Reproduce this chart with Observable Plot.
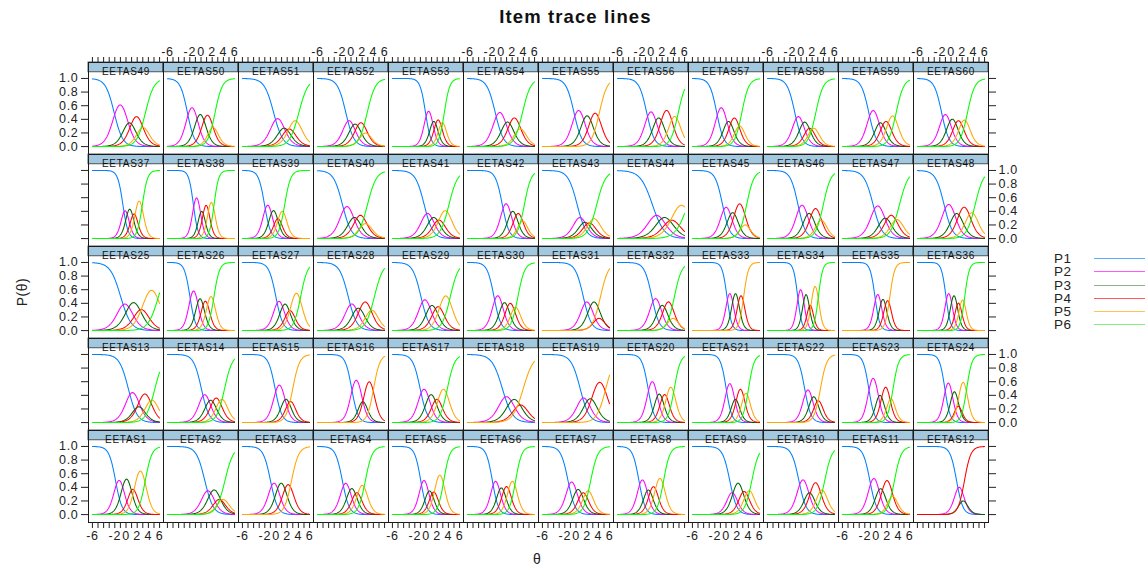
<!DOCTYPE html>
<html>
<head>
<meta charset="utf-8">
<script src="https://cdn.jsdelivr.net/npm/d3@7"></script>
<script src="https://cdn.jsdelivr.net/npm/@observablehq/plot@0.6"></script>
<style>
  body { margin: 0; background: #fff; font-family: "Liberation Sans", Arial, sans-serif; }
  #wrap { position: relative; width: 1145px; height: 567px; overflow: hidden; }
  #title { height: 30px; line-height: 33px; text-align: center; font-weight: bold; font-size: 18.5px; color: #111; padding-left: 6px; letter-spacing: 1.1px; }
  #ylab { position: absolute; left: 22px; top: 292px; transform: translate(-50%, -50%) rotate(-90deg); font-size: 14px; color: #222; white-space: nowrap; letter-spacing: 0.5px; }
  #xlab { position: absolute; left: 537px; top: 559px; transform: translate(-50%, -50%); font-size: 14px; color: #222; }
  #legend { position: absolute; left: 1054px; top: 252px; }
  .lg { position: relative; height: 13.3px; width: 91px; }
  .lg span { position: absolute; left: 0; top: 0; font-size: 13.5px; line-height: 13px; color: #222; letter-spacing: 0.6px; }
  .lg i { position: absolute; left: 40px; width: 51px; top: 6px; height: 0; border-top: 1.5px solid; opacity: 0.65; }
  svg text { letter-spacing: 0.7px; }
</style>
</head>
<body>
<div id="wrap">
  <div id="title">Item trace lines</div>
  <div id="chart"></div>
  <div id="ylab">P(θ)</div>
  <div id="xlab">θ</div>
  <div id="legend"></div>
</div>
<script>
// ---- data ----
const itemNames = [
  "EETAS1","EETAS2","EETAS3","EETAS4","EETAS5","EETAS6","EETAS7","EETAS8","EETAS9","EETAS10","EETAS11","EETAS12",
  "EETAS13","EETAS14","EETAS15","EETAS16","EETAS17","EETAS18","EETAS19","EETAS20","EETAS21","EETAS22","EETAS23","EETAS24",
  "EETAS25","EETAS26","EETAS27","EETAS28","EETAS29","EETAS30","EETAS31","EETAS32","EETAS33","EETAS34","EETAS35","EETAS36",
  "EETAS37","EETAS38","EETAS39","EETAS40","EETAS41","EETAS42","EETAS43","EETAS44","EETAS45","EETAS46","EETAS47","EETAS48",
  "EETAS49","EETAS50","EETAS51","EETAS52","EETAS53","EETAS54","EETAS55","EETAS56","EETAS57","EETAS58","EETAS59","EETAS60"
];
// discrimination (slope) of each item, estimated from the curves
const slopes = [
  1.71,1.33,1.56,1.64,1.86,1.84,1.58,1.78,1.57,1.54,1.65,1.77,
  1.26,1.45,1.64,1.77,1.53,1.09,1.24,1.84,2.00,1.77,1.97,2.12,
  1.09,2.03,1.61,1.29,1.37,1.66,1.40,1.51,2.38,2.64,2.33,2.48,
  2.17,2.42,1.88,1.26,1.28,1.66,1.25,0.94,1.54,1.48,1.25,1.32,
  1.31,1.57,1.22,1.37,2.07,1.35,1.42,1.47,1.60,1.49,1.49,1.51
];
// category thresholds of each item, estimated from the curves
const thresholds = [
  [-1.87,-0.58,0.77,1.68,3.45],[0.68,1.78,2.92,3.60,4.28],[-0.99,0.29,1.57,2.78],[-1.55,-0.34,0.64,1.45,2.57],
  [-0.94,0.24,1.02,1.76,3.18],[-1.55,-0.39,0.51,1.46,2.62],[-1.43,-0.11,0.87,1.71,2.63],[-2.16,-0.90,-0.05,0.93,2.26],
  [0.67,1.52,2.79,3.69,4.62],[-0.38,1.08,1.94,3.26,4.24],[-1.10,0.33,1.30,2.63,3.30],[0.99,1.95,2.41],
  [0.41,1.91,2.66,4.08,5.17],[0.06,1.26,2.20,3.24,4.22],[-0.16,1.35,2.22,3.00],[0.12,1.76,2.48,4.04],
  [-1.05,0.35,1.49,2.42,3.82],[0.24,1.71,3.01,3.98],[0.74,1.96,3.14,5.33],[-0.52,0.99,1.96,2.91,4.16],
  [0.03,1.33,2.04,3.11,4.03],[0.65,1.83,2.73,3.48],[-1.29,0.28,1.14,2.31,3.05],[-1.10,0.15,1.07,1.53,2.81],
  [-0.96,0.55,2.15,3.32,5.81],[-1.98,-0.67,0.33,1.24,2.32],[-0.03,1.11,2.13,2.88,4.41],[-0.50,0.78,1.84,3.23,4.19],
  [-0.91,0.51,1.64,2.71,4.35],[-1.26,0.10,1.15,2.17,3.03],[1.30,2.58,3.86,4.38],[0.14,1.49,2.52,3.71,4.19],
  [0.17,1.19,2.21,3.16],[-0.59,0.46,1.35,1.94,3.11],[-0.19,0.82,1.67,2.48],[-0.90,0.08,0.99,1.68,2.46],
  [-0.56,0.24,1.09,1.79,2.93],[-1.36,-0.22,0.48,1.36,2.34],[-2.05,-0.91,0.02,0.66,1.56],[-1.53,0.09,1.11,2.24,2.95],
  [-0.33,0.88,1.88,2.75,4.11],[0.23,1.59,2.61,3.54,4.18],[0.20,1.22,2.00,2.75,3.71],[0.24,1.75,3.11,4.29,6.57],
  [-0.62,0.67,1.71,3.17,3.70],[-0.54,0.91,1.96,3.24,3.99],[-0.52,1.15,2.14,3.28,4.20],[-1.24,0.43,1.60,3.11,4.32],
  [-2.12,0.05,1.16,2.60,3.48],[-2.43,-0.78,0.52,1.79,2.52],[-0.43,1.00,1.91,2.78,4.09],[-0.93,0.24,1.24,2.31,2.90],
  [-0.09,1.02,1.77,2.57,3.28],[-1.03,0.60,1.72,3.05,3.84],[-0.36,1.30,2.67,4.18],[-0.77,0.76,1.98,3.59,4.88],
  [-1.66,-0.04,0.93,2.05,2.83],[-1.11,0.16,1.17,1.91,2.65],[-1.29,0.29,1.27,2.31,3.61],[-1.68,-0.33,0.80,1.86,2.95]
];
const categories = ["P1","P2","P3","P4","P5","P6"];
const lineColors = ["#0080ff","#ff00ff","#006400","#ff0000","#ffa500","#00ff00"];
const legendColors = ["#0080ff","#ff00ff","#4a8a4a","#ff0000","#ffa500","#38e838"];
const xTicks = [-6,-5,-4,-3,-2,-1,0,1,2,3,4,5,6];
const xTickLabels = [-6,-2,0,2,4,6];
const yTicks = [0,0.2,0.4,0.6,0.8,1.0];
const thetaRange = [-6, 6];

// ---- layout of the lattice ----
const NCOL = 12, NROW = 5;
const panels = itemNames.map((name, i) => ({
  name, col: i % NCOL, row: NROW - 1 - Math.floor(i / NCOL), a: slopes[i], b: thresholds[i]
}));

// graded response model trace lines from the item parameters
const thetaGrid = d3.range(thetaRange[0], thetaRange[1] + 1e-9, 0.08);
const curves = [];
for (const p of panels) {
  const ncat = p.b.length + 1;
  for (const t of thetaGrid) {
    const star = [1, ...p.b.map(bk => 1 / (1 + Math.exp(-p.a * (t - bk)))), 0];
    for (let k = 0; k < ncat; k++) {
      curves.push({col: p.col, row: p.row, theta: t, p: star[k] - star[k + 1], cat: categories[k], order: k});
    }
  }
}
curves.sort((u, v) => u.order - v.order);

const bottomLabels = [], topLabels = [], leftLabels = [], rightLabels = [];
for (let c = 0; c < NCOL; c++) {
  for (const v of xTickLabels) {
    if (c % 2 === 0) bottomLabels.push({col: c, row: NROW - 1, x: v});
    else topLabels.push({col: c, row: 0, x: v});
  }
}
for (let r = 0; r < NROW; r++) {
  for (const v of yTicks) {
    if (r % 2 === 0) leftLabels.push({col: 0, row: r, y: v});
    else rightLabels.push({col: NCOL - 1, row: r, y: v});
  }
}

const H = 537, MT = 31, MB = 45;
const facetH = (H - MT - MB) / NROW;
const stripH = 10;

const chart = Plot.plot({
  width: 1145,
  height: H,
  marginTop: MT,
  marginBottom: MB,
  marginLeft: 82,
  marginRight: 152,
  style: {fontFamily: "'Liberation Sans', Arial, sans-serif", fontSize: "12px", background: "white", color: "#222"},
  fx: {domain: d3.range(NCOL), padding: 0, axis: null},
  fy: {domain: d3.range(NROW), padding: 0, axis: null},
  x: {domain: [-6.7, 6.7], label: null},
  y: {domain: [-0.116, 1.234], label: null},
  color: {domain: categories, range: lineColors},
  marks: [
    Plot.line(curves, {fx: "col", fy: "row", x: "theta", y: "p", z: "cat", stroke: "cat", strokeWidth: 1.05, curve: "linear"}),
    Plot.rect(panels, {fx: "col", fy: "row", fill: "#a2c8df", stroke: "#333", strokeWidth: 0.8, insetBottom: facetH - stripH}),
    Plot.text(panels, {fx: "col", fy: "row", text: "name", frameAnchor: "top", dy: 5.6, fontSize: 10, fill: "#111"}),
    Plot.frame({stroke: "#1a1a1a", strokeWidth: 1}),
    Plot.axisX(xTicks, {anchor: "bottom", facetAnchor: "bottom", tickSize: 6, tickFormat: () => "", label: null, stroke: "#222"}),
    Plot.axisX(xTicks, {anchor: "top", facetAnchor: "top", tickSize: 6, tickFormat: () => "", label: null, stroke: "#222"}),
    Plot.axisY(yTicks, {anchor: "left", facetAnchor: "left", tickSize: 7, tickFormat: () => "", label: null, stroke: "#222"}),
    Plot.axisY(yTicks, {anchor: "right", facetAnchor: "right", tickSize: 7, tickFormat: () => "", label: null, stroke: "#222"}),
    Plot.text(bottomLabels, {fx: "col", fy: "row", x: "x", text: d => String(d.x), frameAnchor: "bottom", dy: 17, fontSize: 12.5, fill: "#222"}),
    Plot.text(topLabels, {fx: "col", fy: "row", x: "x", text: d => String(d.x), frameAnchor: "top", dy: -15, fontSize: 12.5, fill: "#222"}),
    Plot.text(leftLabels, {fx: "col", fy: "row", y: "y", text: d => d3.format(".1f")(d.y), frameAnchor: "left", dx: -10, textAnchor: "end", fontSize: 12.5, fill: "#222"}),
    Plot.text(rightLabels, {fx: "col", fy: "row", y: "y", text: d => d3.format(".1f")(d.y), frameAnchor: "right", dx: 10, textAnchor: "start", fontSize: 12.5, fill: "#222"})
  ]
});
document.getElementById("chart").appendChild(chart);

const legend = document.getElementById("legend");
categories.forEach((c, i) => {
  const row = document.createElement("div");
  row.className = "lg";
  row.innerHTML = `<span>${c}</span><i style="border-color:${legendColors[i]}"></i>`;
  legend.appendChild(row);
});
</script>
</body>
</html>
